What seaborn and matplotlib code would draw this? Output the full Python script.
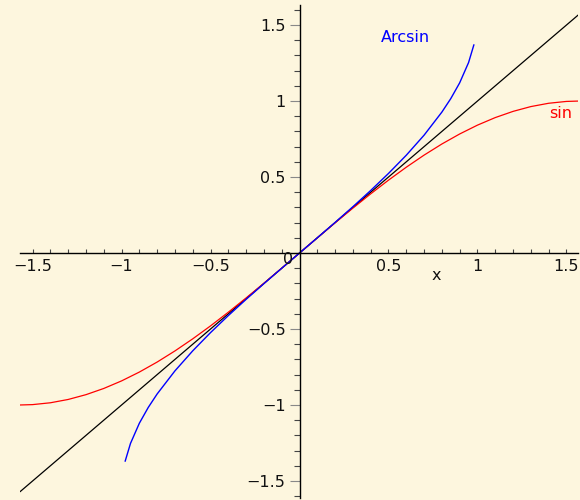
import numpy as np
import pandas as pd
import matplotlib
matplotlib.use("Agg")
import matplotlib.pyplot as plt
from matplotlib.ticker import MultipleLocator, FixedLocator, FixedFormatter
import seaborn as sns

# ---- data ----
sin_x = [-1.5708, -1.5, -1.4, -1.3, -1.2, -1.1, -1.0, -0.9, -0.8, -0.7, -0.6, -0.5, -0.4,
         -0.3, -0.2, -0.1, 0.0, 0.1, 0.2, 0.3, 0.4, 0.5, 0.6, 0.7, 0.8, 0.9, 1.0, 1.1,
         1.2, 1.3, 1.4, 1.5, 1.5708]
sin_y = [-1.0, -0.9975, -0.9854, -0.9636, -0.9320, -0.8912, -0.8415, -0.7833, -0.7174,
         -0.6442, -0.5646, -0.4794, -0.3894, -0.2955, -0.1987, -0.0998, 0.0, 0.0998,
         0.1987, 0.2955, 0.3894, 0.4794, 0.5646, 0.6442, 0.7174, 0.7833, 0.8415, 0.8912,
         0.9320, 0.9636, 0.9854, 0.9975, 1.0]

arcsin_x = [-0.98, -0.95, -0.9, -0.85, -0.8, -0.7, -0.6, -0.5, -0.4, -0.3, -0.2, -0.1, 0.0,
            0.1, 0.2, 0.3, 0.4, 0.5, 0.6, 0.7, 0.8, 0.85, 0.9, 0.95, 0.98]
arcsin_y = [-1.3705, -1.2532, -1.1198, -1.0160, -0.9273, -0.7754, -0.6435, -0.5236, -0.4115,
            -0.3047, -0.2014, -0.1002, 0.0, 0.1002, 0.2014, 0.3047, 0.4115, 0.5236,
            0.6435, 0.7754, 0.9273, 1.0160, 1.1198, 1.2532, 1.3705]

line_x = [-1.5708, 1.5708]
line_y = [-1.5708, 1.5708]

x_major = [-1.5, -1.0, -0.5, 0.5, 1.0, 1.5]
x_labels = ["\u22121.5", "\u22121", "\u22120.5", "0.5", "1", "1.5"]
y_major = [-1.5, -1.0, -0.5, 0.5, 1.0, 1.5]
y_labels = ["\u22121.5", "\u22121", "\u22120.5", "0.5", "1", "1.5"]

# ---- style ----
sns.set_style("white")
bg = "#FDF6DE"
plt.rcParams["font.family"] = ["DejaVu Sans"]
fs = 11.5

fig = plt.figure(figsize=(5.8, 5.0), dpi=100, facecolor=bg)
ax = fig.add_axes([20 / 580, 2 / 500, 558 / 580, 493 / 500])
ax.set_facecolor(bg)

df_line = pd.DataFrame({"x": line_x, "y": line_y})
df_sin = pd.DataFrame({"x": sin_x, "y": sin_y})
df_asin = pd.DataFrame({"x": arcsin_x, "y": arcsin_y})

sns.lineplot(data=df_line, x="x", y="y", ax=ax, color="black", lw=0.9, sort=False, estimator=None)
sns.lineplot(data=df_sin, x="x", y="y", ax=ax, color="#FF0000", lw=0.9, sort=False, estimator=None)
sns.lineplot(data=df_asin, x="x", y="y", ax=ax, color="#0000FF", lw=1.0, sort=False, estimator=None)

ax.set_xlim(-1.5708, 1.565)
ax.set_ylim(-1.612, 1.632)

for s in ["top", "right"]:
    ax.spines[s].set_visible(False)
ax.spines["left"].set_position(("data", 0))
ax.spines["bottom"].set_position(("data", 0))
for s in ["left", "bottom"]:
    ax.spines[s].set_color("black")
    ax.spines[s].set_linewidth(1.0)

ax.xaxis.set_major_locator(FixedLocator(x_major))
ax.xaxis.set_major_formatter(FixedFormatter(x_labels))
ax.yaxis.set_major_locator(FixedLocator(y_major))
ax.yaxis.set_major_formatter(FixedFormatter(y_labels))
ax.xaxis.set_minor_locator(MultipleLocator(0.1))
ax.yaxis.set_minor_locator(MultipleLocator(0.1))

ax.tick_params(which="both", bottom=True, left=True, top=False, right=False)
ax.tick_params(axis="x", which="both", direction="in", length=3, width=0.8,
               color="#444444", labelsize=fs, pad=4, labelcolor="#111111")
ax.tick_params(axis="y", which="major", direction="out", length=7, width=0.8,
               color="#888888", labelsize=fs, pad=3, labelcolor="#111111")
ax.tick_params(axis="y", which="minor", direction="out", length=4, width=0.8,
               color="#444444")

ax.set_xlabel("")
ax.set_ylabel("")

ax.text(-0.067, -0.04, "0", ha="center", va="center", fontsize=fs, color="#111111")
ax.text(0.77, -0.15, "x", ha="center", va="center", fontsize=fs, color="#111111")
ax.text(0.596, 1.42, "Arcsin", ha="center", va="center", fontsize=fs, color="#0000FF")
ax.text(1.466, 0.92, "sin", ha="center", va="center", fontsize=fs, color="#FF0000")

fig.savefig("out.png", dpi=100, facecolor=bg)
